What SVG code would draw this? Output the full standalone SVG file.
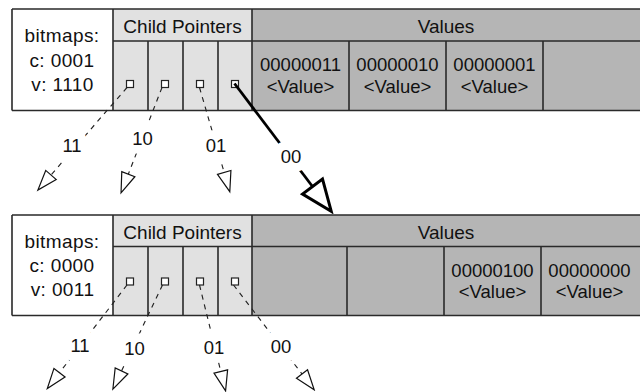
<svg xmlns="http://www.w3.org/2000/svg" width="640" height="392" viewBox="0 0 640 392">
<defs>
<style>
text{font-family:"Liberation Sans",Arial,Helvetica,sans-serif;fill:#111;text-anchor:middle}
.hdr{font-size:19px}
.bm{font-size:19px;letter-spacing:0.4px}
.val{font-size:18.5px}
.lbl{font-size:18.5px;paint-order:stroke;stroke:#fff;stroke-width:17px;stroke-linejoin:round}
.ln{stroke:#2a2a2a;stroke-width:1.6;fill:none}
.wh{fill:#fff}
.lg{fill:#e1e1e1}
.dg{fill:#b5b5b5}
.sq{fill:#fff;stroke:#222;stroke-width:1.2}
.dash{stroke:#222;stroke-width:1.15;stroke-dasharray:5 5;fill:none}
.thick{stroke:#000;stroke-width:2.8;fill:none}
</style>
<marker id="sa" markerUnits="userSpaceOnUse" viewBox="-2 -9 24 18" markerWidth="24" markerHeight="18" refX="0" refY="0" orient="auto">
<path d="M0,-7 L20,0 L0,7 Z" fill="#fff" stroke="#111" stroke-width="1.2" stroke-linejoin="miter"/>
</marker>
<marker id="ba" markerUnits="userSpaceOnUse" viewBox="-3 -17 38 34" markerWidth="38" markerHeight="34" refX="0" refY="0" orient="auto">
<path d="M0,-12.5 L31,0 L0,12.5 Z" fill="#fff" stroke="#000" stroke-width="3" stroke-linejoin="miter"/>
</marker>
</defs>
<rect width="640" height="392" fill="#fff"/>

<g id="node-top">
<rect class="wh" x="12" y="9" width="101" height="101.5"/>
<rect class="lg" x="113" y="9" width="139" height="101.5"/>
<rect class="dg" x="252" y="9" width="390" height="101.5"/>
<path class="ln" d="M12,9 H642 M12,110.5 H642 M12,9 V110.5 M113,9 V110.5 M252,9 V110.5 M113,41 H642 M148,41 V110.5 M183,41 V110.5 M218,41 V110.5 M349,41 V110.5 M446,41 V110.5 M543,41 V110.5"/>
<text class="bm" x="62" y="42.3">bitmaps:</text>
<text class="bm" x="62" y="66.7">c: 0001</text>
<text class="bm" x="62.5" y="91">v: 1110</text>
<text class="hdr" x="182.5" y="32.5">Child Pointers</text>
<text class="hdr" x="446" y="32.5">Values</text>
<text class="val" x="300.5" y="70.7">00000011</text>
<text class="val" x="300.5" y="93.3">&lt;Value&gt;</text>
<text class="val" x="397.5" y="70.7">00000010</text>
<text class="val" x="397.5" y="93.3">&lt;Value&gt;</text>
<text class="val" x="494.5" y="70.7">00000001</text>
<text class="val" x="494.5" y="93.3">&lt;Value&gt;</text>
<rect class="sq" x="126.5" y="80.5" width="7" height="7"/>
<rect class="sq" x="161.5" y="80.5" width="7" height="7"/>
<rect class="sq" x="196.5" y="80.5" width="7" height="7"/>
<rect class="sq" x="231.5" y="80.5" width="7" height="7"/>
</g>

<g id="node-bottom">
<rect class="wh" x="12" y="215" width="101" height="100.5"/>
<rect class="lg" x="113" y="215" width="139" height="100.5"/>
<rect class="dg" x="252" y="215" width="390" height="100.5"/>
<path class="ln" d="M12,215 H642 M12,315.5 H642 M12,215 V315.5 M113,215 V315.5 M252,215 V315.5 M113,246.5 H642 M148,246.5 V315.5 M183,246.5 V315.5 M218,246.5 V315.5 M347,246.5 V315.5 M444,246.5 V315.5 M541,246.5 V315.5"/>
<text class="bm" x="62" y="247.5">bitmaps:</text>
<text class="bm" x="62" y="271.7">c: 0000</text>
<text class="bm" x="62.5" y="296">v: 0011</text>
<text class="hdr" x="182.5" y="238.5">Child Pointers</text>
<text class="hdr" x="446" y="238.5">Values</text>
<text class="val" x="492.5" y="276.7">00000100</text>
<text class="val" x="492.5" y="298">&lt;Value&gt;</text>
<text class="val" x="589.5" y="276.7">00000000</text>
<text class="val" x="589.5" y="298">&lt;Value&gt;</text>
<rect class="sq" x="126.5" y="278" width="7" height="7"/>
<rect class="sq" x="161.5" y="278" width="7" height="7"/>
<rect class="sq" x="196.5" y="278" width="7" height="7"/>
<rect class="sq" x="231.5" y="278" width="7" height="7"/>
</g>

<g id="connectors">
<path class="dash" d="M127,87.5 L51,175" marker-end="url(#sa)"/>
<path class="dash" d="M162,87.5 L128.3,174.2" marker-end="url(#sa)"/>
<path class="dash" d="M199.5,87.5 L224.2,172.5" marker-end="url(#sa)"/>
<path class="thick" d="M234.5,83.5 L312.5,186.5" marker-end="url(#ba)"/>
<path class="dash" d="M127,285 L59.5,372.7" marker-end="url(#sa)"/>
<path class="dash" d="M162.5,285 L121.5,371" marker-end="url(#sa)"/>
<path class="dash" d="M199.5,285 L220.8,371.5" marker-end="url(#sa)"/>
<path class="dash" d="M233.5,285 L302,374" marker-end="url(#sa)"/>
<text class="lbl" x="72" y="151.7">11</text>
<text class="lbl" x="142.5" y="145">10</text>
<text class="lbl" x="216" y="151.5">01</text>
<text class="lbl" x="291" y="163">00</text>
<text class="lbl" x="80" y="352">11</text>
<text class="lbl" x="134.5" y="355">10</text>
<text class="lbl" x="214" y="354">01</text>
<text class="lbl" x="281" y="352.5">00</text>
</g>
</svg>
